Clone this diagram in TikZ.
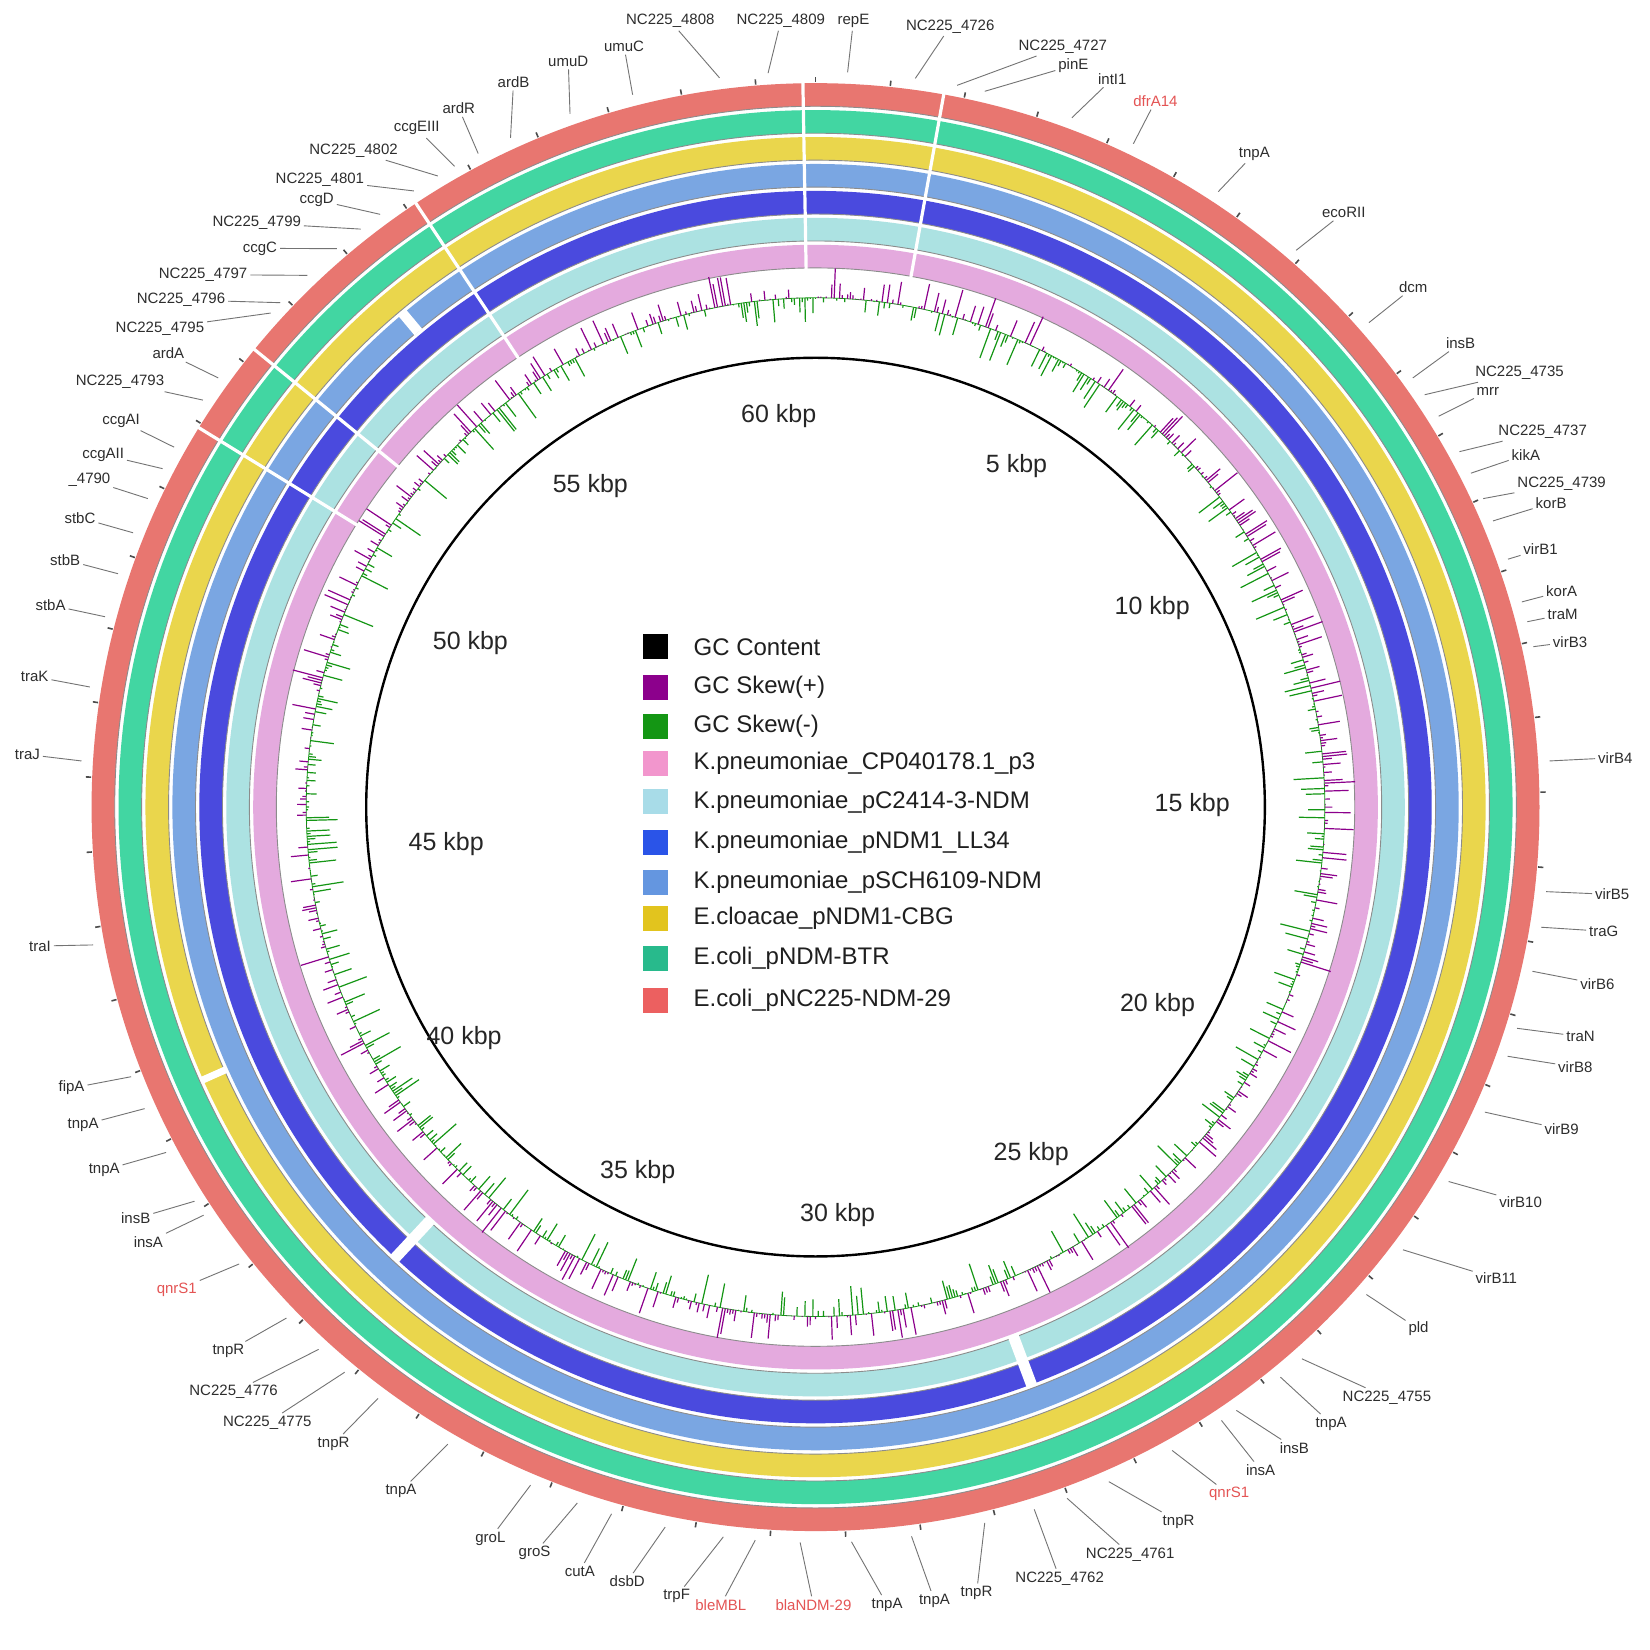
\documentclass[tikz,border=0pt]{standalone}
\usepackage{fontspec}
\setmainfont{Liberation Sans}
\usetikzlibrary{calc}
\definecolor{ringred}{RGB}{232,118,112}
\definecolor{ringteal}{RGB}{66,214,162}
\definecolor{ringyel}{RGB}{234,214,76}
\definecolor{ringlb}{RGB}{122,166,226}
\definecolor{ringdb}{RGB}{74,74,222}
\definecolor{ringcy}{RGB}{172,226,226}
\definecolor{ringpk}{RGB}{228,170,222}
\definecolor{legpk}{RGB}{242,150,205}
\definecolor{legcy}{RGB}{168,220,232}
\definecolor{legdb}{RGB}{42,84,232}
\definecolor{leglb}{RGB}{100,150,224}
\definecolor{legyel}{RGB}{226,196,30}
\definecolor{legteal}{RGB}{40,186,140}
\definecolor{legred}{RGB}{236,96,96}
\definecolor{skp}{RGB}{140,0,140}
\definecolor{skm}{RGB}{20,150,20}
\definecolor{gk}{RGB}{45,45,45}
\definecolor{rk}{RGB}{228,84,84}
\begin{document}
\begin{tikzpicture}[x=1.0523pt,y=-1.0523pt,
  lbl/.style={font=\fontsize{15}{18}\selectfont, inner sep=1pt, outer sep=2pt},
  leader/.style={draw=black!55, line width=0.9pt},
  kbp/.style={font=\fontsize{25}{30}\selectfont, text=black!85},
  legt/.style={font=\fontsize{24}{28}\selectfont, text=black!88, anchor=west, inner sep=0pt},
  swatch/.style={minimum size=25pt, inner sep=0pt, draw=none},
  tick/.style={draw=black!70, line width=1.6pt},
  gapline/.style={draw=white, line width=3.2pt}]
\useasboundingbox (0,0) rectangle (1568,1568);
\fill[white] (0,0) rectangle (1568,1568);
\coordinate (C) at (775,767);
% ---- rings ----
\begin{scope}[shift={(775,767)}]
\foreach \c [count=\k from 0] in {ringred,ringteal,ringyel,ringlb,ringdb,ringcy,ringpk}{
  \pgfmathsetmacro\rmid{688-25.6*\k-11}
  \pgfmathsetmacro\rin{688-25.6*\k-22}
  \draw[\c, line width=23.1pt] (0,0) circle[radius=\rmid];
  \draw[black!45, line width=0.9pt] (0,0) circle[radius=\rin];
}
% full-width gaps
\foreach \g in {359,10.2,326.5,309.2,301.6}{
  \pgfmathsetmacro\ga{\g-90}
  \draw[gapline] (\ga:511) -- (\ga:690);
}
% partial gaps
\draw[draw=white, line width=10pt] (230.1:588.5) -- (230.1:612.2);
\draw[draw=white, line width=7pt] (156:613.8) -- (156:638);
\draw[draw=white, line width=11pt] (133:537) -- (133:586.8);
\draw[draw=white, line width=11pt] (69.5:537) -- (69.5:586.8);
% outer ticks
\foreach \k in {0,...,60}{
  \pgfmathsetmacro\ta{\k*5.9211-90}
  \draw[tick] (\ta:689) -- (\ta:694);
}
% GC skew
\draw[skm, line width=0.8pt] (0,0) circle[radius=484];
\pgfmathsetseed{7}
\foreach \i in {0,...,1199}{
  \pgfmathsetmacro\sa{\i*0.3-90}
  \pgfmathsetmacro\u{rand}
  \pgfmathsetmacro\h{26*\u*\u*\u+4*\u}
  \pgfmathsetmacro\rr{484+\h}
  \ifdim \h pt > 0pt
    \draw[skp, line width=1.2pt] (\sa:484) -- (\sa:\rr);
  \else
    \draw[skm, line width=1.2pt] (\sa:484) -- (\sa:\rr);
  \fi
}
% black circle
\draw[black, line width=2.4pt] (0,0) circle[radius=427];
\end{scope}
% ---- scale labels ----
\node[kbp] (k60) at (740,395) {60 kbp};
\node[kbp] (k5) at (966,443) {5 kbp};
\node[kbp] (k10) at (1095,578) {10 kbp};
\node[kbp] (k15) at (1133,765) {15 kbp};
\node[kbp] (k20) at (1100,955) {20 kbp};
\node[kbp] (k25) at (980,1097) {25 kbp};
\node[kbp] (k30) at (796,1155) {30 kbp};
\node[kbp] (k35) at (606,1114) {35 kbp};
\node[kbp] (k40) at (441,986) {40 kbp};
\node[kbp] (k45) at (424,802) {45 kbp};
\node[kbp] (k50) at (447,611) {50 kbp};
\node[kbp] (k55) at (561,462) {55 kbp};
% ---- legend ----
\foreach \y/\c/\t [count=\n] in {
  614.8/black/GC Content,
  652.9/skp/GC Skew(+),
  690/skm/GC Skew(-),
  725.1/legpk/K.pneumoniae\_CP040178.1\_p3,
  762.1/legcy/K.pneumoniae\_pC2414-3-NDM,
  800.2/legdb/K.pneumoniae\_pNDM1\_LL34,
  838.2/leglb/K.pneumoniae\_pSCH6109-NDM,
  872.4/legyel/E.cloacae\_pNDM1-CBG,
  910.4/legteal/E.coli\_pNDM-BTR,
  950.3/legred/E.coli\_pNC225-NDM-29}{
  \node[swatch, fill=\c] (sw\n) at (622.5,\y) {};
  \node[legt] (lt\n) at (659,\y) {\t};
}
% ---- gene labels ----
\foreach \t/\x/\y/\txt/\c [count=\n] in {
 -7.5/637/20/NC225\_4808/gk,
 -3.7/742/20/NC225\_4809/gk,
 2.5/811/20/repE/gk,
 7.8/903/25/NC225\_4726/gk,
 11.1/1010/44/NC225\_4727/gk,
 13.3/1020/62/pinE/gk,
 20.4/1057/75/intI1/gk,
 25.6/1098/96/dfrA14/rk,
 33.2/1192/146/tnpA/gk,
 40.8/1277/202/ecoRII/gk,
 48.8/1343/273/dcm/gk,
 54.3/1388/326/insB/gk,
 55.9/1444/354/NC225\_4735/gk,
 57.9/1414/372/mrr/gk,
 61.1/1466/410/NC225\_4737/gk,
 63/1450/432/kikA/gk,
 65.2/1484/460/NC225\_4739/gk,
 67.1/1474/478/korB/gk,
 70.3/1464/522/virB1/gk,
 73.8/1484/562/korA/gk,
 75.4/1485/584/traM/gk,
 77.4/1492/610/virB3/gk,
 86.4/1535/720/virB4/gk,
 96.6/1532/850/virB5/gk,
 99.4/1524/885/traG/gk,
 102.9/1518/935/virB6/gk,
 107.5/1502/985/traN/gk,
 109.8/1497/1014/virB8/gk,
 114.5/1484/1073/virB9/gk,
 120.6/1445/1142/virB10/gk,
 127/1422/1215/virB11/gk,
 131.5/1348/1263/pld/gk,
 138.6/1318/1328/NC225\_4755/gk,
 140.8/1265/1353/tnpA/gk,
 145.1/1230/1376/insB/gk,
 146.5/1198/1397/insA/gk,
 151/1168/1420/qnrS1/rk,
 156.5/1120/1446/tnpR/gk,
 160/1074/1477/NC225\_4761/gk,
 162.7/1007/1500/NC225\_4762/gk,
 166.7/928/1514/tnpR/gk,
 172.5/888/1521/tnpA/gk,
 177.2/843/1525/tnpA/gk,
 181.2/773/1525/blaNDM-29/rk,
 184.7/685/1525/bleMBL/rk,
 187.2/643/1517/trpF/gk,
 191.8/596/1503/dsbD/gk,
 196.1/551/1493/cutA/gk,
 198.9/508/1476/groS/gk,
 202.8/466/1462/groL/gk,
 210/381/1417/tnpA/gk,
 216.5/317/1372/tnpR/gk,
 219.8/254/1352/NC225\_4775/gk,
 222.5/222/1323/NC225\_4776/gk,
 226/217/1284/tnpR/gk,
 231.6/168/1226/qnrS1/rk,
 236.3/141/1180/insA/gk,
 237.6/129/1158/insB/gk,
 242/99/1112/tnpA/gk,
 245.8/79/1069/tnpA/gk,
 248.5/68/1034/fipA/gk,
 259.2/38/899/traI/gk,
 273.6/26/717/traJ/gk,
 279.4/33/643/traK/gk,
 285/48/575/stbA/gk,
 288.5/62/532/stbB/gk,
 291.9/76/492/stbC/gk,
 294.8/85/456/\_4790/gk,
 297.4/98/432/ccgAII/gk,
 299.3/115/400/ccgAI/gk,
 303.6/114/363/NC225\_4793/gk,
 305.7/160/336/ardA/gk,
 312.2/152/312/NC225\_4795/gk,
 313.3/172/285/NC225\_4796/gk,
 316.3/193/261/NC225\_4797/gk,
 319.4/247/236/ccgC/gk,
 321.8/244/212/NC225\_4799/gk,
 323.7/301/190/ccgD/gk,
 326.9/304/171/NC225\_4801/gk,
 329.1/336/143/NC225\_4802/gk,
 330.6/396/122/ccgEIII/gk,
 332.7/436/103/ardR/gk,
 335.5/488/78/ardB/gk,
 340.5/540/58/umuD/gk,
 345.6/593/44/umuC/gk}{
  \pgfmathsetmacro\la{\t-90}
  \coordinate (in\n) at ($(C)+(\la:699)$);
  \node[lbl, text=\c] (lab\n) at (\x,\y) {\txt};
  \draw[leader] (in\n) -- (lab\n);
}
\end{tikzpicture}
\end{document}
